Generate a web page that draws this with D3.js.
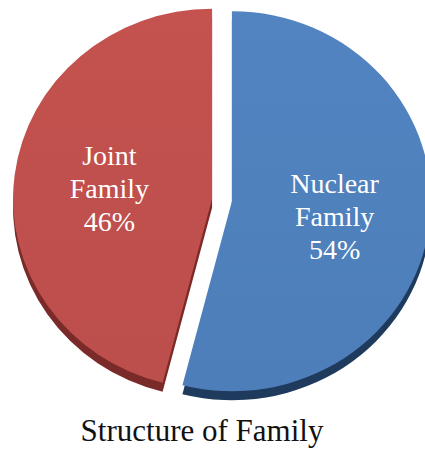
<!DOCTYPE html>
<html lang="en">
  <head>
    <meta charset="utf-8">
    <title>Structure of Family</title>
    <script src="https://cdn.jsdelivr.net/npm/d3@7"></script>
    <style>
    body{margin:0;background:#fff;}
    </style>
  </head>
  <body>
    <svg></svg>
    <script>
      var categories=["Nuclear Family","Joint Family"];
      var values=[54,46];
      var labelLines=[["Nuclear","Family","54%"],["Joint","Family","46%"]];
      var colors=["#4F81BD","#C0504D"];
      var sideColors=["#1E3A5C","#7A2A28"];

      var width=425,height=450;
      var cx=222,cy=200,ry=190,rx=199,explode=10,depth=9;
      var serif="'Liberation Serif', 'DejaVu Serif', serif";

      var svg=d3.select("svg").attr("width",width).attr("height",height);

      var defs=svg.append("defs");
      colors.forEach(function(c,i){
        var g=defs.append("linearGradient").attr("id","grad"+i)
                  .attr("x1","0").attr("y1","0").attr("x2","0").attr("y2","1");
        g.append("stop").attr("offset","0%").attr("stop-color",d3.color(c).brighter(0.06));
        g.append("stop").attr("offset","100%").attr("stop-color",d3.color(c).darker(0.06));
      });

      var pie=d3.pie().sort(null).startAngle(0).endAngle(2*Math.PI);
      var arcs=pie(values);
      var arc=d3.arc().innerRadius(0).outerRadius(ry);
      var sx=rx/ry;

      var g=svg.append("g").attr("transform","translate("+cx+","+cy+")");

      function offset(d){
        var a=(d.startAngle+d.endAngle)/2;
        return [Math.sin(a)*explode,-Math.cos(a)*explode];
      }

      // side (3D depth)
      g.selectAll("path.side").data(arcs).enter().append("path")
       .attr("class","side")
       .attr("d",arc)
       .attr("fill",function(d,i){return sideColors[i];})
       .attr("transform",function(d){var o=offset(d);return "translate("+o[0]+","+(o[1]+depth)+") scale("+sx+",1)";});

      // top faces
      g.selectAll("path.top").data(arcs).enter().append("path")
       .attr("class","top")
       .attr("d",arc)
       .attr("fill",function(d,i){return "url(#grad"+i+")";})
       .attr("transform",function(d){var o=offset(d);return "translate("+o[0]+","+o[1]+") scale("+sx+",1)";});

      var labelArc=d3.arc().innerRadius(ry*0.52).outerRadius(ry*0.52);
      var lineH=33;
      g.selectAll("text.lbl").data(arcs).enter().append("text")
       .attr("class","lbl")
       .attr("text-anchor","middle")
       .style("font-family",serif)
       .style("font-size","28px")
       .attr("fill","#fff")
       .each(function(d,i){
         var c=labelArc.centroid(d),o=offset(d);
         var t=d3.select(this);
         var lines=labelLines[i];
         lines.forEach(function(s,k){
           t.append("tspan")
            .attr("x",c[0]*sx+o[0])
            .attr("y",c[1]+o[1]+(k-(lines.length-1)/2)*lineH+12)
            .text(s);
         });
       });

      svg.append("text")
         .attr("x",202)
         .attr("y",441)
         .attr("text-anchor","middle")
         .style("font-family",serif)
         .style("font-size","31px")
         .attr("fill","#111")
         .text("Structure of Family");
    </script>
  </body>
</html>
